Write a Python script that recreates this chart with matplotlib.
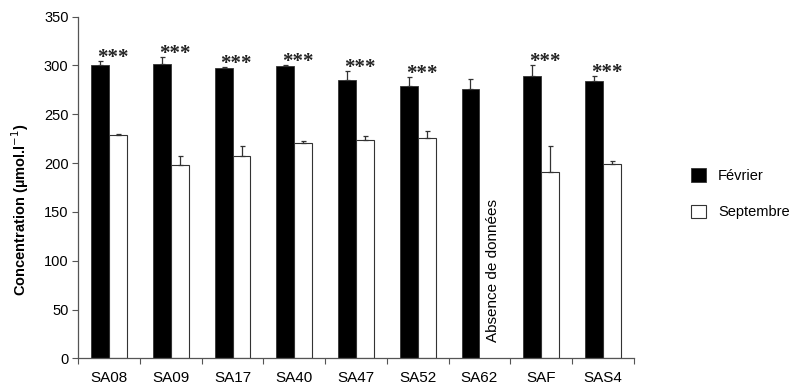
import numpy as np
import matplotlib
matplotlib.use('Agg')
import matplotlib.pyplot as plt
import matplotlib.ticker as tick

stations = ['SA08', 'SA09', 'SA17', 'SA40', 'SA47', 'SA52', 'SA62', 'SAF', 'SAS4']
fevrier = [300, 302, 297.5, 299, 285, 279, 275.5, 289, 284]
fevrier_err = [5, 7, 1, 1, 9, 9, 11, 11, 5]
septembre = [228.5, 198, 207, 221, 223.5, 226, np.nan, 190.5, 199]
septembre_err = [1, 9, 11, 1.5, 4, 7, np.nan, 27, 3]
signif = ['***', '***', '***', '***', '***', '***', '', '***', '***']

plt.rcParams['font.family'] = ['Liberation Sans', 'DejaVu Sans']
plt.rcParams['font.size'] = 10.5

fig = plt.figure(figsize=(7.98, 3.88), dpi=100)
ax = fig.add_axes([0.0981, 0.0765, 0.696, 0.8805])

x = np.arange(len(stations))
w = 0.29
ax.bar(x - w/2, fevrier, w, color='black', edgecolor='#333333', lw=0.6, label='Février', zorder=2)
ax.bar(x + w/2, septembre, w, color='white', edgecolor='#333333', lw=0.8, label='Septembre', zorder=2)
ax.errorbar(x - w/2, fevrier, yerr=[np.zeros(len(x)), fevrier_err], fmt='none',
            ecolor='#333333', elinewidth=0.9, capsize=1.8, capthick=0.9, zorder=3)
ax.errorbar(x + w/2, septembre, yerr=[np.zeros(len(x)), septembre_err], fmt='none',
            ecolor='#333333', elinewidth=0.9, capsize=1.8, capthick=0.9, zorder=3)

for i, s in enumerate(signif):
    if s:
        ax.annotate(s, (i + 0.06, fevrier[i] + fevrier_err[i]), xytext=(0, -5),
                    textcoords='offset points', ha='center', va='bottom',
                    family='Liberation Serif', fontsize=15, fontweight='bold', color='#222222')

ax.text(6 + 0.22, 16.5, 'Absence de données', rotation=90, ha='center', va='bottom', fontsize=11)

ax.set_xlim(-0.5, len(stations) - 0.5)
ax.set_ylim(0, 350)
ax.yaxis.set_major_locator(tick.MultipleLocator(50))
ax.set_xticks(x)
ax.set_xticklabels(stations, fontsize=11)
ax.set_xticks(np.arange(-0.5, len(stations)), minor=True)
ax.tick_params(axis='x', which='major', length=0, pad=9)
ax.tick_params(axis='x', which='minor', length=4, color='#555555', width=0.8)
ax.tick_params(axis='y', length=4, color='#555555', width=0.8, pad=3)
for sp in ['top', 'right']:
    ax.spines[sp].set_visible(False)
for sp in ['left', 'bottom']:
    ax.spines[sp].set_color('#555555')
    ax.spines[sp].set_linewidth(0.9)

ax.set_ylabel('Concentration (µmol.l$^{-1}$)', fontweight='bold', fontsize=10.5)
ax.yaxis.set_label_coords(-0.085, 0.434)

fig.legend(loc='upper left', bbox_to_anchor=(0.866, 0.567), frameon=False, fontsize=10.5,
           borderpad=0, borderaxespad=0,
           handlelength=1.05, handleheight=1.05, labelspacing=1.5, handletextpad=0.8)

fig.savefig('out.png', dpi=100)
